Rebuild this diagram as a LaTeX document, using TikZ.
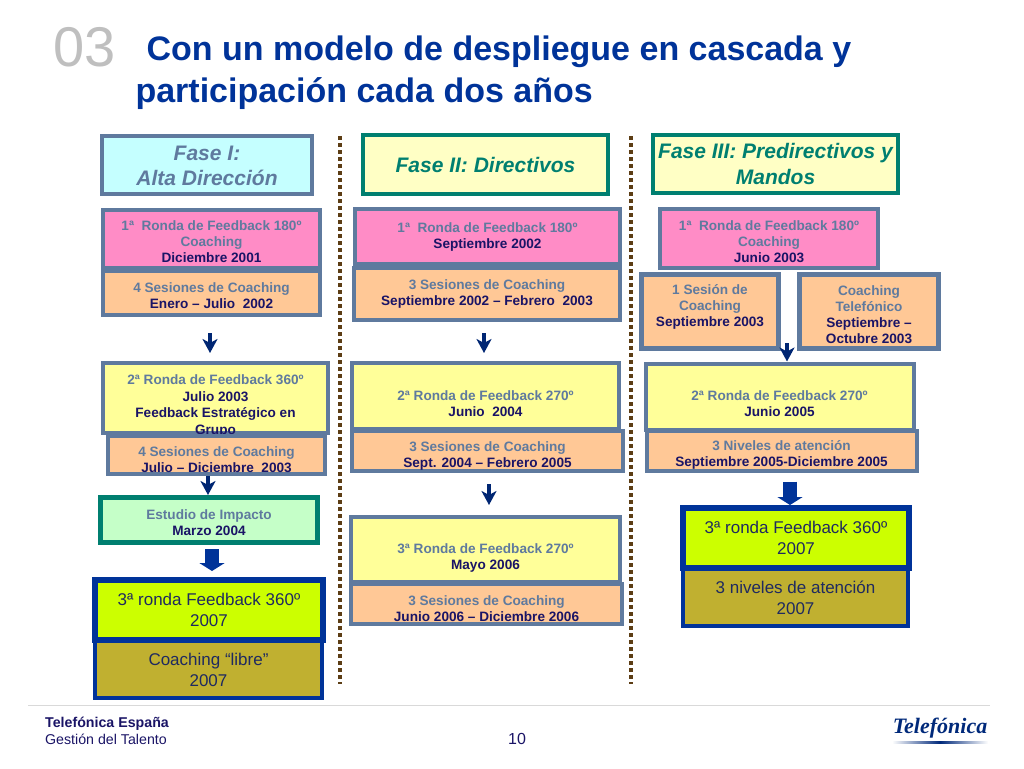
\documentclass[tikz,border=0pt]{standalone}
\usepackage{fontspec}
\setmainfont{Liberation Sans}
\newfontfamily\logofont{Liberation Serif}
\usetikzlibrary{arrows.meta}

\definecolor{azulgris}{HTML}{5F7A9E}
\definecolor{oscuro}{HTML}{1A1466}
\definecolor{tinta}{HTML}{1F2A60}
\definecolor{marino}{HTML}{003399}
\definecolor{verdeazul}{HTML}{007F70}
\definecolor{tostado}{HTML}{5C3D14}
\definecolor{rosa}{HTML}{FF8CC6}
\definecolor{naranja}{HTML}{FFC896}
\definecolor{crema}{HTML}{FFFF99}
\definecolor{lima}{HTML}{CCFF00}
\definecolor{oliva}{HTML}{C0B030}
\definecolor{celeste}{HTML}{C5FFFF}
\definecolor{marfil}{HTML}{FFFFC5}
\definecolor{menta}{HTML}{C5FFC8}
\newcommand{\gr}[1]{\textcolor{azulgris}{#1}}
\newcommand{\baja}{\rule{0pt}{19pt}}
\newcommand{\bajita}{\rule{0pt}{16pt}}

\tikzset{
  caja/.style={draw=azulgris, line width=4pt, inner sep=0pt, align=center, font=\bfseries\fontsize{13.6}{16}\selectfont, text=oscuro},
  fase/.style={caja, font=\bfseries\itshape\fontsize{21}{25.5}\selectfont},
  ronda/.style={caja, fill=rosa},
  sesion/.style={caja, fill=naranja},
  amarilla/.style={caja, fill=crema},
  final/.style={draw=marino, line width=6pt, fill=lima, inner sep=0pt, align=center, font=\fontsize{17}{21}\selectfont, text=tinta},
  libre/.style={final, line width=4pt, fill=oliva},
  flecha/.style={-{Stealth[length=14pt,width=15pt,inset=4pt]}, line width=3.5pt, draw=marino!75!black},
  bloque/.style={-{Triangle[length=8pt,width=25pt]}, line width=14pt, draw=marino},
  puntos/.style={draw=tostado, line width=4pt, dash pattern=on 4pt off 3pt},
}

\begin{document}
\begin{tikzpicture}[x=1pt, y=-1pt]
\useasboundingbox (0,0) rectangle (1024,768);

% titulo
\node[text=black!25, font=\fontsize{56}{56}\selectfont] (num) at (85,47) {03};
\node[anchor=west, align=left, text=marino, font=\bfseries\fontsize{34}{42}\selectfont] (titulo) at (132,73) {\hspace*{11pt}Con un modelo de despliegue en cascada y\\participación cada dos años};

% separadores
\coordinate (sepAa) at (340,136);
\coordinate (sepAb) at (340,684);
\coordinate (sepBa) at (631,136);
\coordinate (sepBb) at (631,684);
\draw[puntos] (sepAa) -- (sepAb);
\draw[puntos] (sepBa) -- (sepBb);

% fases
\node[fase, fill=celeste, text=azulgris, minimum width=210, minimum height=58] (F1) at (207,165) {\rule{0pt}{16pt}Fase I:\\Alta Dirección};
\node[fase, draw=verdeazul, fill=marfil, text=verdeazul, minimum width=245, minimum height=59] (F2) at (485.5,164.5) {Fase II: Directivos};
\node[fase, draw=verdeazul, fill=marfil, text=verdeazul, minimum width=245, minimum height=58] (F3) at (775.5,164) {Fase III: Predirectivos y\\Mandos};

% columna 1
\node[ronda, minimum width=217, minimum height=58] (R1a) at (211.5,239) {\bajita\gr{1ª~~Ronda de Feedback 180º}\\\gr{Coaching}\\Diciembre 2001};
\node[sesion, minimum width=217, minimum height=44] (S1a) at (211.5,293) {\bajita\gr{4 Sesiones de Coaching}\\Enero – Julio~~2002};
\node[amarilla, minimum width=225, minimum height=70] (R2a) at (215.5,398) {};
\node[inner sep=0pt, align=center, text=oscuro, font=\bfseries\fontsize{13.6}{16.5}\selectfont] (R2atxt) at (215.5,406) {\gr{2ª Ronda de Feedback 360º}\\Julio 2003\\Feedback Estratégico en\\Grupo};
\node[sesion, minimum width=217, minimum height=38] (S2a) at (216.5,455) {\baja\gr{4 Sesiones de Coaching}\\Julio – Diciembre~~2003};
\node[caja, draw=verdeazul, line width=5pt, fill=menta, minimum width=217, minimum height=45] (E1) at (209,520) {\bajita\gr{Estudio de Impacto}\\Marzo 2004};
\node[libre, minimum width=227, minimum height=57] (L1) at (208.5,669.5) {Coaching “libre”\\2007};
\node[final, minimum width=228, minimum height=60] (T1) at (209,610) {3ª ronda Feedback 360º\\2007};

% columna 2
\node[ronda, minimum width=265, minimum height=55] (R1b) at (487.5,236.5) {\gr{1ª~~Ronda de Feedback 180º}\\Septiembre 2002};
\node[sesion, minimum width=266, minimum height=52] (S1b) at (487,294) {\gr{3 Sesiones de Coaching}\\Septiembre 2002 – Febrero~~2003};
\node[amarilla, minimum width=267, minimum height=66] (R2b) at (485.5,396) {~\\[10pt]\gr{2ª Ronda de Feedback 270º}\\Junio~~2004};
\node[sesion, minimum width=271, minimum height=40] (S2b) at (487.5,451) {\baja\gr{3 Sesiones de Coaching}\\Sept. 2004 – Febrero 2005};
\node[amarilla, minimum width=269, minimum height=65] (R3b) at (485.5,549.5) {~\\[10pt]\gr{3ª Ronda de Feedback 270º}\\Mayo 2006};
\node[sesion, minimum width=271, minimum height=40] (S3b) at (486.5,604) {\baja\gr{3 Sesiones de Coaching}\\Junio 2006 – Diciembre 2006};

% columna 3
\node[ronda, minimum width=218, minimum height=59] (R1c) at (769,238.5) {\bajita\gr{1ª~~Ronda de Feedback 180º}\\\gr{Coaching}\\Junio 2003};
\node[sesion, line width=5pt, minimum width=137, minimum height=74] (S1c) at (710,311.5) {\gr{1 Sesión de}\\\gr{Coaching}\\Septiembre 2003\\[-5pt]~};
\node[sesion, line width=5pt, minimum width=139, minimum height=74] (S1d) at (869,311.5) {\bajita\gr{Coaching}\\\gr{Telefónico}\\Septiembre –\\Octubre 2003};
\node[amarilla, minimum width=268, minimum height=66] (R2c) at (779.5,396.5) {~\\[9pt]\gr{2ª Ronda de Feedback 270º}\\Junio 2005};
\node[sesion, minimum width=270, minimum height=40] (S2c) at (781.5,450.5) {\baja\gr{3 Niveles de atención}\\Septiembre 2005-Diciembre 2005};
\node[libre, minimum width=225, minimum height=57] (L3) at (795.5,597.5) {3 niveles de atención\\2007};
\node[final, minimum width=226, minimum height=60] (T3) at (796,538) {3ª ronda Feedback 360º\\2007};

% flechas
\draw[flecha, shorten <=16pt, shorten >=8pt] ([xshift=-1.5pt]S1a.south) -- ([xshift=-1.5pt]S1a.south |- R2a.north);
\draw[flecha, shorten >=0pt] ([xshift=-8.5pt]S2a.south) -- ([xshift=-8.5pt]S2a.south |- E1.north);
\draw[bloque, shorten <=4pt, shorten >=6pt] ([xshift=3pt]E1.south) -- ([xshift=3pt]E1.south |- T1.north);
\draw[flecha, shorten <=11pt, shorten >=8pt] ([xshift=-3pt]S1b.south) -- ([xshift=-3pt]S1b.south |- R2b.north);
\draw[flecha, shorten <=11pt, shorten >=10pt] ([xshift=1.5pt]S2b.south) -- ([xshift=1.5pt]S2b.south |- R3b.north);
\draw[flecha, shorten <=-8pt, shorten >=0pt] ([xshift=7.5pt]R2c.north |- S1c.south) -- ([xshift=7.5pt]R2c.north);
\draw[bloque, shorten <=9pt, shorten >=0pt] ([xshift=8.5pt]S2c.south) -- ([xshift=8.5pt]S2c.south |- T3.north);

% pie
\coordinate (pieA) at (28,705);
\coordinate (pieB) at (990,705);
\draw[black!15, line width=1pt] (pieA) -- (pieB);
\node[anchor=base west, inner sep=0pt, text=oscuro, font=\bfseries\fontsize{14.2}{14}\selectfont] (pie1) at (45,727) {Telefónica España};
\node[anchor=base west, inner sep=0pt, text=oscuro, font=\fontsize{14.2}{14}\selectfont] (pie2) at (45,744.5) {Gestión del Talento};
\node[text=oscuro, inner sep=0pt, font=\fontsize{16}{16}\selectfont] (pag) at (517,739) {10};
\node[text=marino!80!black, inner sep=0pt, font=\logofont\bfseries\itshape\fontsize{22}{22}\selectfont] (logo) at (940,728) {Telefónica};
\shade[left color=white, right color=white, middle color=marino!80!black] (892,741.5) rectangle (988,743.5);
\end{tikzpicture}
\end{document}
